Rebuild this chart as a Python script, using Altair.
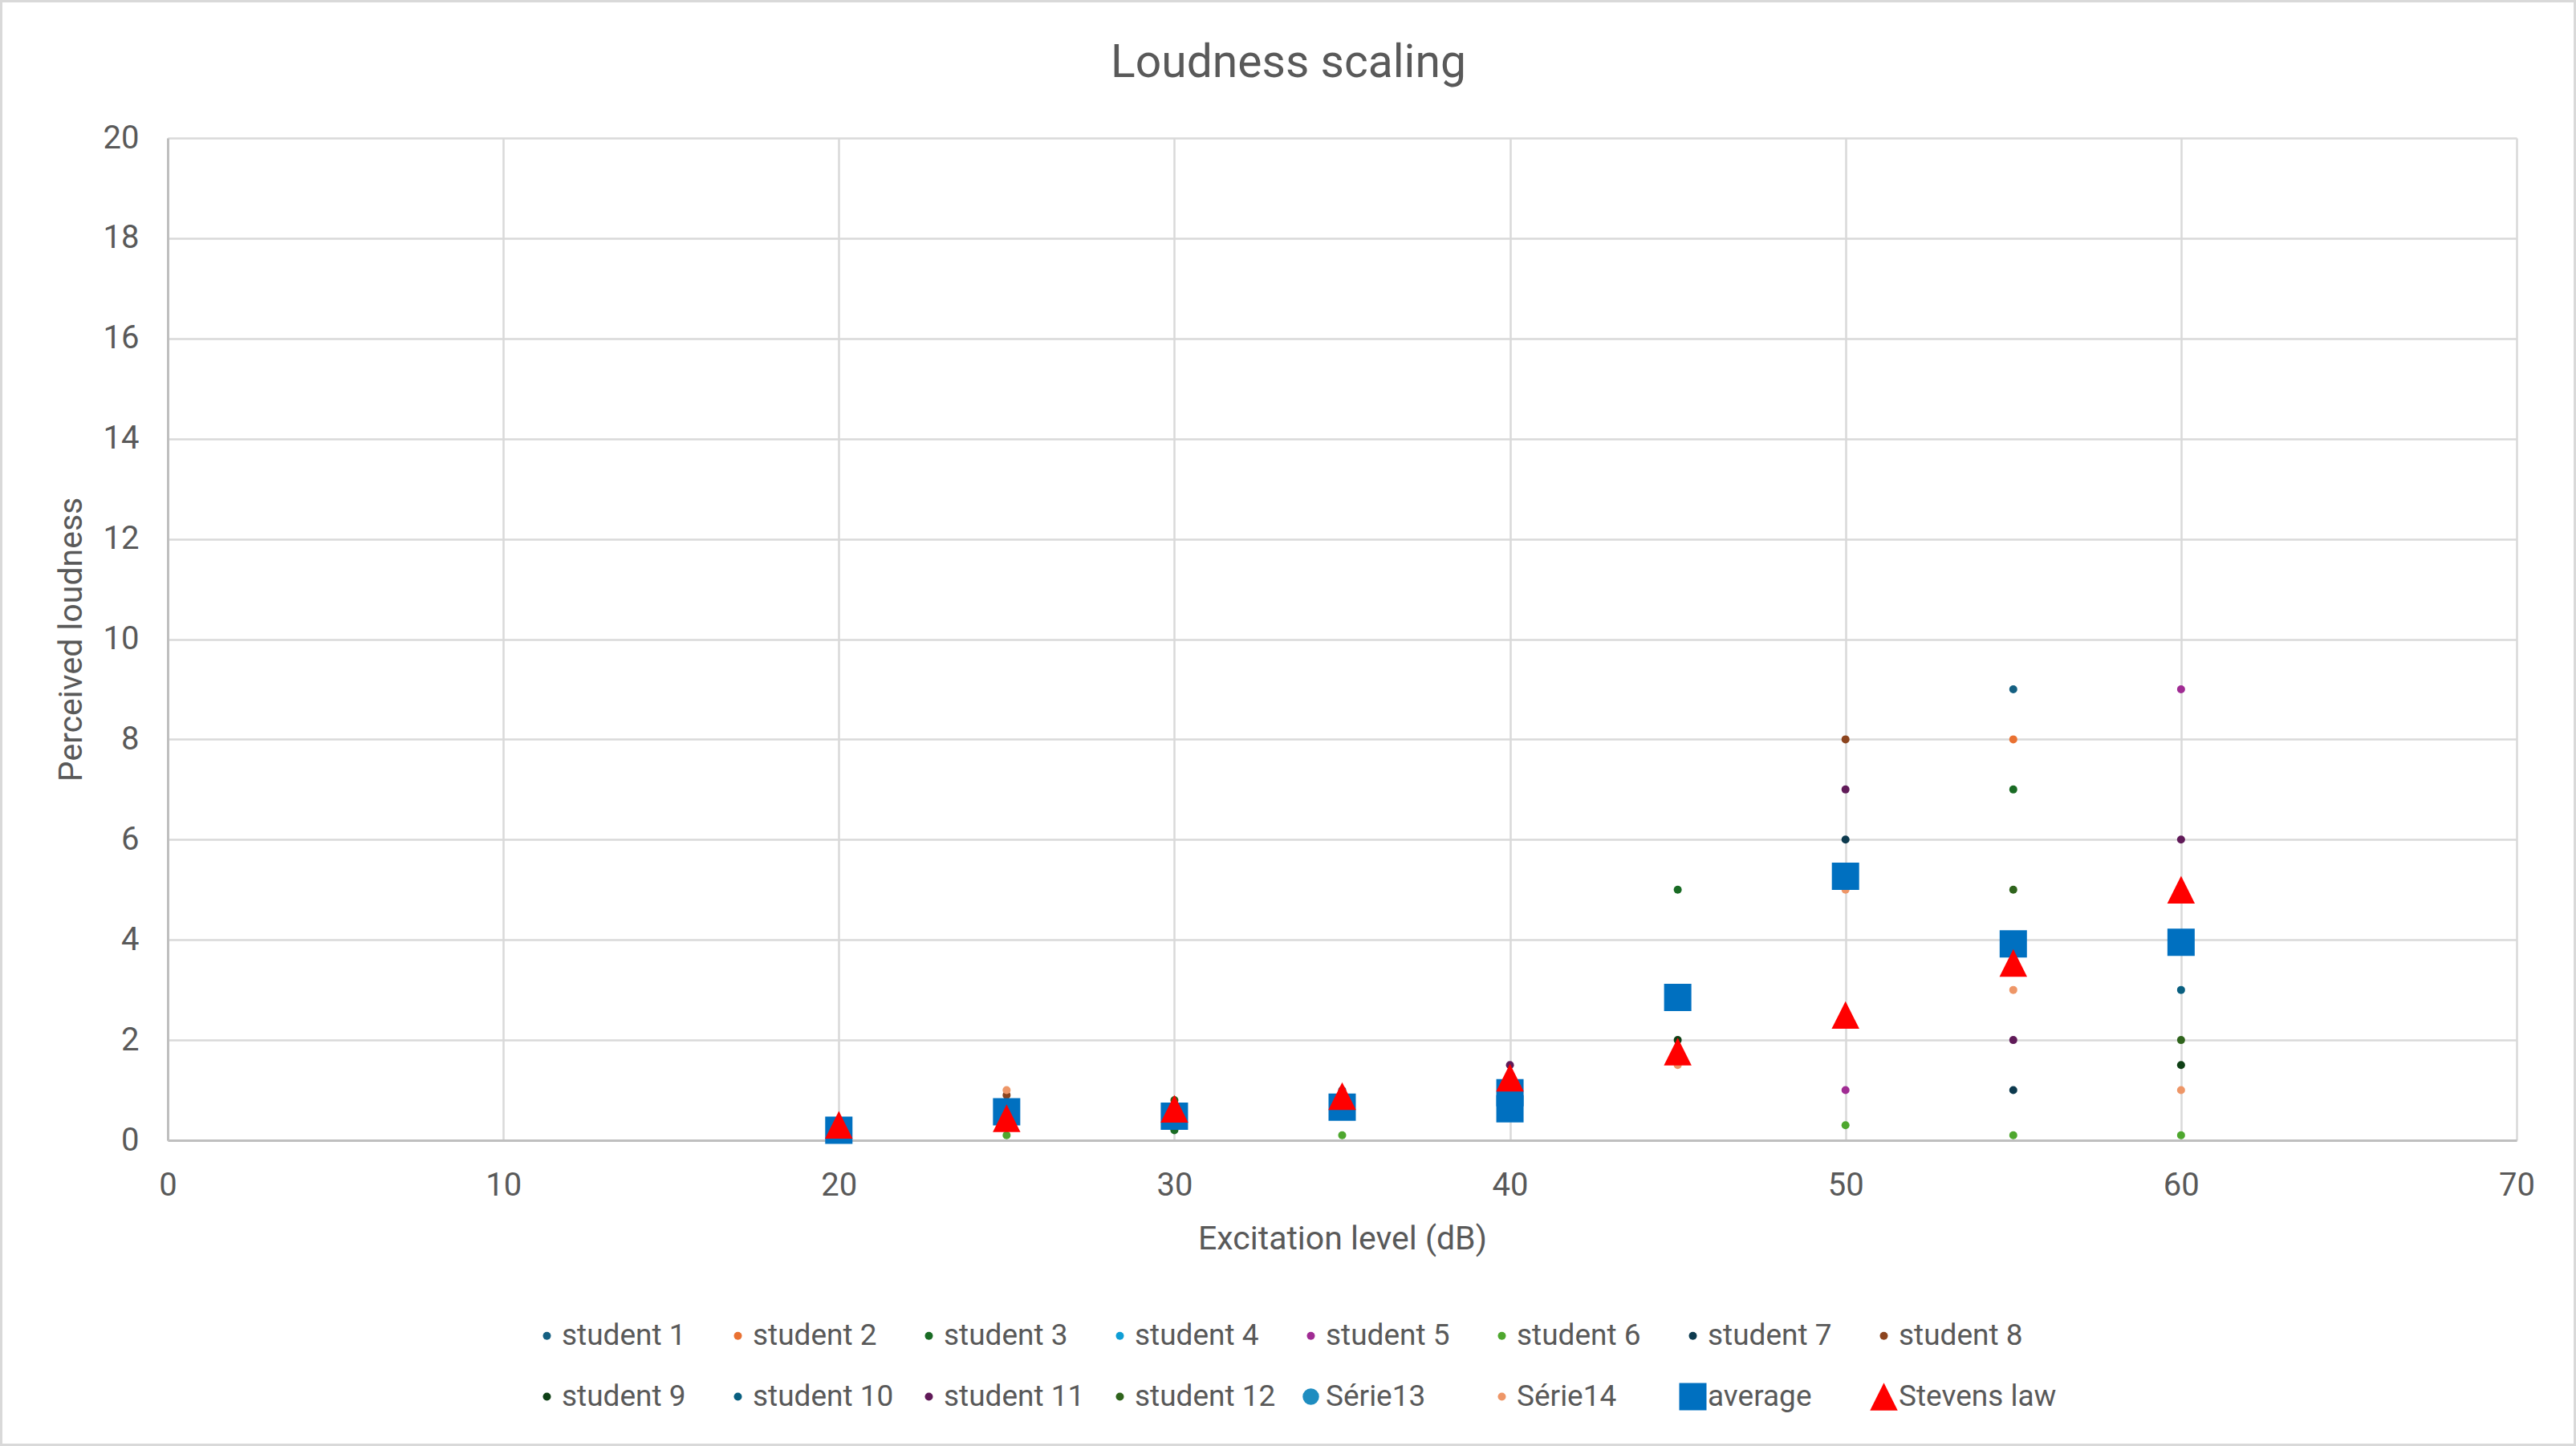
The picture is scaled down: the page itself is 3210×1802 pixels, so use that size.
import altair as alt
import pandas as pd

N = None
levels = [20, 25, 30, 35, 40, 45, 50, 55, 60]

series_names = [
    "student 1", "student 2", "student 3", "student 4", "student 5", "student 6",
    "student 7", "student 8", "student 9", "student 10", "student 11", "student 12",
    "Série13", "Série14", "average", "Stevens law",
]

student_1 = [N, N, N, 1.0, N, N, N, 9, N]
student_2 = [N, N, N, N, N, N, N, 8, N]
student_3 = [N, N, 0.2, N, N, 5, N, 7, N]
student_4 = [N, N, N, N, N, N, N, N, N]
student_5 = [N, N, N, N, N, N, 1, N, 9]
student_6 = [N, 0.1, N, 0.1, N, N, 0.3, 0.1, 0.1]
student_7 = [N, N, N, N, N, N, 6, 1, N]
student_8 = [N, 0.9, N, N, N, N, 8, N, N]
student_9 = [N, N, N, N, N, 2, N, N, 1.5]
student_10 = [N, N, N, N, N, N, N, N, 3]
student_11 = [N, N, N, N, 1.5, N, 7, 2, 6]
student_12 = [N, N, 0.8, N, N, N, N, 5, 2]
serie_13 = [N, N, N, N, N, N, N, N, N]
serie_14 = [N, 1.0, N, N, N, 1.5, 5, 3, 1]
average = [0.2, 0.57, 0.48, 0.66, 0.95, 2.85, 5.27, 3.92, 3.95]
average_extra_levels = [40]
average_extra = [0.63]
stevens_law = [0.31, 0.44, 0.63, 0.88, 1.25, 1.77, 2.5, 3.54, 5.0]

colors = [
    "#156082", "#E97132", "#196B24", "#0F9ED5", "#A02B93", "#4EA72E",
    "#0D3A4E", "#8C441E", "#0F4016", "#095F80", "#601A58", "#2F641C",
    "#1F8DC0", "#EE9667", "#0070C0", "#FF0000",
]
tri = "M0,-1L1,1L-1,1Z"
shapes = ["circle"] * 14 + ["square", tri]
sizes = [100] * 12 + [420, 100, 1156, 1190]

all_series = [student_1, student_2, student_3, student_4, student_5, student_6,
              student_7, student_8, student_9, student_10, student_11, student_12,
              serie_13, serie_14, average, stevens_law]

rows = []
for name, vals in zip(series_names, all_series):
    for lv, v in zip(levels, vals):
        if v is not None:
            rows.append({"series": name, "level": lv, "value": v})
    if name == "average":
        for lv, v in zip(average_extra_levels, average_extra):
            rows.append({"series": name, "level": lv, "value": v})
order = {n: i for i, n in enumerate(series_names)}
df = pd.DataFrame(rows)
df["ord"] = df["series"].map(order)
df = df.sort_values("ord", kind="stable")

FONT = "Roboto, DejaVu Sans Condensed, sans-serif"
TXT = "#595959"

leg = alt.Legend(
    title=None, orient="none", legendX=454, legendY=1474, columns=8,
    direction="horizontal", gridAlign="all", columnPadding=4, rowPadding=38,
    labelOffset=0, labelFont=FONT, labelFontSize=37, labelColor=TXT,
    symbolStrokeWidth=0, padding=0, labelLimit=400,
)

points = alt.Chart(df).mark_point(filled=True, opacity=1).encode(
    x=alt.X("level:Q", scale=alt.Scale(domain=[0, 70], nice=False),
            axis=alt.Axis(values=list(range(0, 71, 10)), title="Excitation level (dB)")),
    y=alt.Y("value:Q", scale=alt.Scale(domain=[0, 20], nice=False),
            axis=alt.Axis(values=list(range(0, 21, 2)), title="Perceived loudness")),
    color=alt.Color("series:N", scale=alt.Scale(domain=series_names, range=colors), legend=leg),
    shape=alt.Shape("series:N", scale=alt.Scale(domain=series_names, range=shapes), legend=leg),
    size=alt.Size("series:N", scale=alt.Scale(type="ordinal", domain=series_names, range=sizes),
                  legend=leg),
    order=alt.Order("ord:Q"),
)

# chart-area border (decoration, as in the spreadsheet chart frame)
frame = alt.Chart(pd.DataFrame({"frame": [0]})).mark_rect(
    fillOpacity=0, stroke="#D9D9D9", strokeWidth=3
).encode(
    x=alt.value(-207.5), x2=alt.value(2999.5),
    y=alt.value(-170.5), y2=alt.value(1628.5),
)

chart = alt.layer(points, frame).properties(
    width=2927, height=1249,
    title=alt.TitleParams("Loudness scaling", font=FONT, fontSize=57, fontWeight="normal",
                          color=TXT, anchor="middle", offset=-108, dx=-67),
    autosize=alt.AutoSizeParams(type="none"),
    padding={"left": 209, "top": 172, "right": 74, "bottom": 381},
).configure_view(stroke=None).configure_axis(
    labelFont=FONT, labelFontSize=40, labelColor=TXT, labelPadding=36,
    titleFont=FONT, titleFontSize=41, titleColor=TXT, titleFontWeight="normal",
    gridColor="#D9D9D9", gridWidth=2.5, domainColor="#BFBFBF", domainWidth=3,
    ticks=False, labelFlush=False,
).configure_axisX(titlePadding=27).configure_axisY(titlePadding=18, labelPadding=36)

chart.save("out.html", embed_options={"renderer": "svg", "actions": False})
